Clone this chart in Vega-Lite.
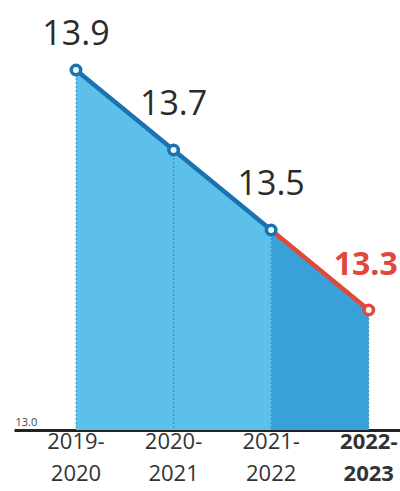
{
  "$schema": "https://vega.github.io/schema/vega-lite/v6.json",
  "width": 386,
  "height": 430,
  "autosize": "none",
  "padding": {"left": 14, "top": 0, "right": 0, "bottom": 61},
  "background": "white",
  "config": {"view": {"stroke": null}},
  "data": {"values": [
    {"year": 2019, "value": 13.9, "period": ["2019-", "2020"]},
    {"year": 2020, "value": 13.7, "period": ["2020-", "2021"]},
    {"year": 2021, "value": 13.5, "period": ["2021-", "2022"]},
    {"year": 2022, "value": 13.3, "period": ["2022-", "2023"]}
  ]},
  "encoding": {
    "x": {"field": "year", "type": "quantitative", "scale": {"domain": [2018.365, 2022.32]},
      "axis": {"labels": false, "ticks": false, "grid": false, "title": null, "domainColor": "#222222", "domainWidth": 3}},
    "y": {"field": "value", "type": "quantitative", "scale": {"domain": [13.0, 14.075]},
      "axis": {"values": [13.0], "format": ".1f", "title": null, "domain": false, "ticks": false, "grid": false,
        "labelAlign": "left", "labelPadding": -1, "labelBaseline": "alphabetic", "labelOffset": -5,
        "labelFont": "Open Sans", "labelFontSize": 11, "labelColor": "#444444"}}
  },
  "layer": [
    {"transform": [{"filter": "datum.year <= 2021"}], "mark": {"type": "area", "color": "#5dc0ea", "opacity": 1},
      "encoding": {"y2": {"datum": 13.0}}},
    {"transform": [{"filter": "datum.year >= 2021"}], "mark": {"type": "area", "color": "#3aa1d8", "opacity": 1},
      "encoding": {"y2": {"datum": 13.0}}},
    {"mark": {"type": "rule", "color": "#2a6a98", "strokeDash": [2, 2], "strokeWidth": 1, "opacity": 0.6},
      "encoding": {"y2": {"datum": 13.0}}},
    {"transform": [{"filter": "datum.year <= 2021"}], "mark": {"type": "line", "color": "#1a72b0", "strokeWidth": 4.5}},
    {"transform": [{"filter": "datum.year >= 2021"}], "mark": {"type": "line", "color": "#e2483a", "strokeWidth": 4.5}},
    {"mark": {"type": "point", "shape": "circle", "filled": true, "fill": "#eef8fd", "strokeWidth": 3.5, "size": 90, "opacity": 1},
      "encoding": {"stroke": {"condition": {"test": "datum.year == 2022", "value": "#e2483a"}, "value": "#1a72b0"}}},
    {"transform": [{"filter": "datum.year == 2020 || datum.year == 2021"}],
      "mark": {"type": "text", "font": "Open Sans", "fontSize": 34, "color": "#2b2b2b", "baseline": "alphabetic", "dy": -35},
      "encoding": {"text": {"field": "value", "type": "quantitative", "format": ".1f"}}},
    {"transform": [{"filter": "datum.year == 2019"}],
      "mark": {"type": "text", "font": "Open Sans", "fontSize": 34, "color": "#2b2b2b", "baseline": "alphabetic", "dy": -25},
      "encoding": {"text": {"field": "value", "type": "quantitative", "format": ".1f"}}},
    {"transform": [{"filter": "datum.year == 2022"}],
      "mark": {"type": "text", "font": "Open Sans", "fontSize": 32, "fontWeight": "bold", "color": "#e2483a", "baseline": "alphabetic", "dy": -35, "dx": -3},
      "encoding": {"text": {"field": "value", "type": "quantitative", "format": ".1f"}}},
    {"transform": [{"filter": "datum.year <= 2021"}],
      "mark": {"type": "text", "font": "Open Sans", "fontSize": 22, "color": "#333333", "baseline": "top", "dy": 2, "lineHeight": 32},
      "encoding": {"y": {"datum": 13.0}, "text": {"field": "period"}}},
    {"transform": [{"filter": "datum.year == 2022"}],
      "mark": {"type": "text", "font": "Open Sans", "fontSize": 22, "fontWeight": "bold", "color": "#333333", "baseline": "top", "dy": 2, "lineHeight": 32},
      "encoding": {"y": {"datum": 13.0}, "text": {"field": "period"}}}
  ]
}
